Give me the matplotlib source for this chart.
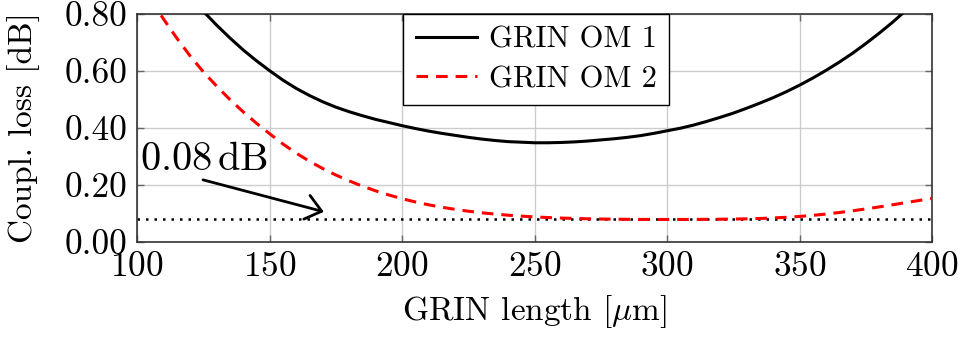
import matplotlib
matplotlib.use("Agg")
import matplotlib.pyplot as plt
from matplotlib.ticker import FormatStrFormatter

plt.rcParams['font.family'] = ['cmr10', 'DejaVu Serif']
plt.rcParams['mathtext.fontset'] = 'cm'
plt.rcParams['axes.formatter.use_mathtext'] = True

# Data
length_om1 = [120, 125, 130, 135, 140, 145, 150, 155, 160, 165, 170, 175, 180, 185,
              190, 195, 200, 205, 210, 215, 220, 225, 230, 235, 240, 245, 250, 255,
              260, 265, 270, 275, 280, 285, 290, 295, 300, 305, 310, 315, 320, 325,
              330, 335, 340, 345, 350, 355, 360, 365, 370, 375, 380, 385, 390, 395]
loss_om1 = [0.862, 0.809, 0.761, 0.716, 0.674, 0.636, 0.601, 0.568, 0.539, 0.514,
            0.492, 0.473, 0.457, 0.443, 0.430, 0.419, 0.408, 0.398, 0.389, 0.381,
            0.374, 0.367, 0.361, 0.356, 0.352, 0.350, 0.348, 0.348, 0.349, 0.351,
            0.354, 0.358, 0.362, 0.367, 0.373, 0.381, 0.390, 0.399, 0.410, 0.423,
            0.437, 0.452, 0.469, 0.487, 0.506, 0.527, 0.550, 0.575, 0.602, 0.631,
            0.662, 0.696, 0.732, 0.770, 0.811, 0.855]

length_om2 = [100, 105, 110, 115, 120, 125, 130, 135, 140, 145, 150, 155, 160, 165,
              170, 175, 180, 185, 190, 195, 200, 205, 210, 215, 220, 225, 230, 235,
              240, 245, 250, 255, 260, 265, 270, 275, 280, 285, 290, 295, 300, 305,
              310, 315, 320, 325, 330, 335, 340, 345, 350, 355, 360, 365, 370, 375,
              380, 385, 390, 395, 400]
loss_om2 = [0.930, 0.853, 0.782, 0.715, 0.653, 0.597, 0.547, 0.500, 0.457, 0.417,
            0.380, 0.344, 0.312, 0.2835, 0.258, 0.235, 0.2145, 0.196, 0.1795, 0.165,
            0.152, 0.1405, 0.1305, 0.122, 0.1145, 0.108, 0.1025, 0.098, 0.094, 0.0908,
            0.088, 0.0858, 0.084, 0.0827, 0.0815, 0.0806, 0.0800, 0.0795, 0.0792,
            0.079, 0.079, 0.079, 0.0792, 0.0795, 0.0799, 0.0805, 0.0813, 0.0825,
            0.0843, 0.0867, 0.0897, 0.0935, 0.098, 0.1035, 0.1095, 0.116, 0.123,
            0.1305, 0.138, 0.1455, 0.153]

ref_level = 0.08
ref_label = r'$0.08\,\mathrm{dB}$'
x_ticks = [100, 150, 200, 250, 300, 350, 400]
y_ticks = [0.0, 0.2, 0.4, 0.6, 0.8]

fig = plt.figure(figsize=(9.58, 3.38), dpi=100)
ax = fig.add_axes([0.143, 0.284, 0.830, 0.675])

ax.plot(length_om1, loss_om1, color='black', lw=2.2, label='GRIN OM 1', zorder=3)
ax.plot(length_om2, loss_om2, color='red', lw=2.2, linestyle=(0, (3.8, 2.6)),
        label='GRIN OM 2', zorder=3)
ax.axhline(ref_level, color='black', lw=1.8, linestyle=(0, (1, 2.4)), zorder=2)

ax.text(101.0, 0.2526, ref_label, fontsize=29, ha='left', va='baseline', zorder=4)
ax.annotate('', xy=(170.5, 0.106), xytext=(124.9, 0.218),
            arrowprops=dict(arrowstyle='->,head_length=0.5,head_width=0.4',
                            color='black', lw=2.0, shrinkA=0, shrinkB=0,
                            mutation_scale=22),
            zorder=4)

ax.set_xlim(100, 400)
ax.set_ylim(0, 0.8)
ax.set_xticks(x_ticks)
ax.set_yticks(y_ticks)
ax.yaxis.set_major_formatter(FormatStrFormatter('%.2f'))
ax.grid(True, color='#cccccc', lw=1.0, zorder=0)
ax.set_axisbelow(True)
ax.tick_params(direction='in', top=True, right=True, length=5, width=1,
               color='#666666', labelsize=25.5, pad=7)
for s in ax.spines.values():
    s.set_color('#333333')
    s.set_linewidth(1.2)

ax.set_xlabel(r'GRIN length [$\mu$m]', fontsize=24, labelpad=7)
ax.set_ylabel('Coupl. loss [dB]', fontsize=24)
ax.yaxis.set_label_coords(-0.122, 0.5)

leg = ax.legend(loc='upper left', bbox_to_anchor=(0.335, 1.0), fontsize=22,
                frameon=True, fancybox=False, edgecolor='black', framealpha=1,
                handlelength=2.0, handletextpad=0.4, borderpad=0.4,
                labelspacing=0.4, borderaxespad=0)
leg.get_frame().set_linewidth(1.0)

fig.savefig('out.png', dpi=100)
